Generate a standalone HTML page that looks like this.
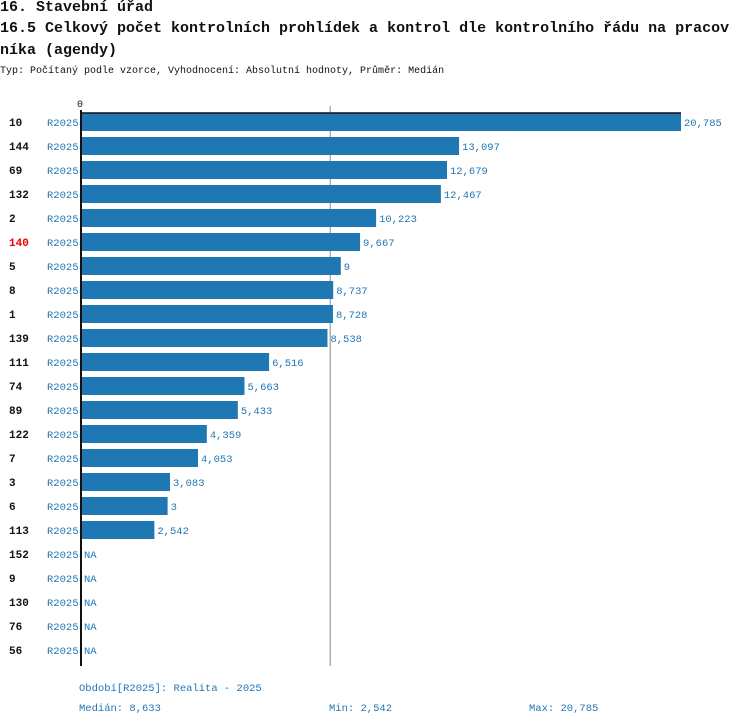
<!DOCTYPE html>
<html><head><meta charset="utf-8"><style>
body{margin:0;background:#fff;width:750px;height:726px;overflow:hidden;font-family:"Liberation Mono",monospace;}
.t{position:absolute;left:0;font-size:15px;font-weight:bold;color:#111;white-space:nowrap;}
</style></head><body>
<div class="t" style="top:-1px">16. Stavební úřad</div>
<div class="t" style="top:20px">16.5 Celkový počet kontrolních prohlídek a kontrol dle kontrolního řádu na pracov</div>
<div class="t" style="top:42px">níka (agendy)</div>
<div style="position:absolute;left:0;top:66px;font-size:10px;color:#111">Typ: Počítaný podle vzorce, Vyhodnocení: Absolutní hodnoty, Průměr: Medián</div>
<svg id="c" width="750" height="726" style="position:absolute;left:0;top:0" font-family="Liberation Mono, monospace"></svg>
<script>
const categories=["10","144","69","132","2","140","5","8","1","139","111","74","89","122","7","3","6","113","152","9","130","76","56"];
const values=[20785,13097,12679,12467,10223,9667,9000,8737,8728,8538,6516,5663,5433,4359,4053,3083,3000,2542,null,null,null,null,null];
const valueLabels=["20,785","13,097","12,679","12,467","10,223","9,667","9","8,737","8,728","8,538","6,516","5,663","5,433","4,359","4,053","3,083","3","2,542","NA","NA","NA","NA","NA"];
const median=8633, minV=2542, maxV=20785;
const highlight="140";
const svg=document.getElementById('c');const NS="http://www.w3.org/2000/svg";
const x0=81, xScale=v=>x0+v*600/maxV, yRow=i=>122+i*24;
function mk(t,a,txt){const e=document.createElementNS(NS,t);for(const k in a)e.setAttribute(k,a[k]);if(txt!==undefined)e.textContent=txt;svg.appendChild(e);return e;}
let e;
e=mk('line',{x1:xScale(median),x2:xScale(median),y1:106,y2:666,stroke:'#888','stroke-width':1});


e=mk('text',{x:x0-1,y:107,'font-size':10,'text-anchor':'middle',fill:'#111'},'0');


categories.forEach((c,i)=>{
 const y=yRow(i);
 e=mk('text',{x:9,y:y+4,'font-size':11,'font-weight':'bold',fill:c===highlight?'#e00':'#111'},c);
 
 
 e=mk('text',{x:47,y:y+4,'font-size':10.5,fill:'#1f77b4'},'R2025');
 
 
 const v=values[i];let xe=x0+2;
 if(v!==null){xe=xScale(v);
  e=mk('rect',{x:x0,y:y-9,width:xe-x0,height:18,fill:'#1f77b4'});
  
  
  xe+=2;}
 e=mk('text',{x:xe+1,y:y+4,'font-size':10.5,fill:'#1f77b4'},valueLabels[i]);
 
 
});
e=mk('line',{x1:x0,x2:xScale(maxV),y1:113,y2:113,stroke:'#111','stroke-width':1.5});


e=mk('line',{x1:x0,x2:x0,y1:110,y2:666,stroke:'#111','stroke-width':2});


const foot=[[79,691,"Období[R2025]: Realita - 2025"],[79,711,"Medián: 8,633"],[329,711,"Min: 2,542"],[529,711,"Max: 20,785"]];
foot.forEach(f=>{e=mk('text',{x:f[0],y:f[1],'font-size':10.5,fill:'#1f77b4'},f[2]);
 
 });
</script>
</body></html>
